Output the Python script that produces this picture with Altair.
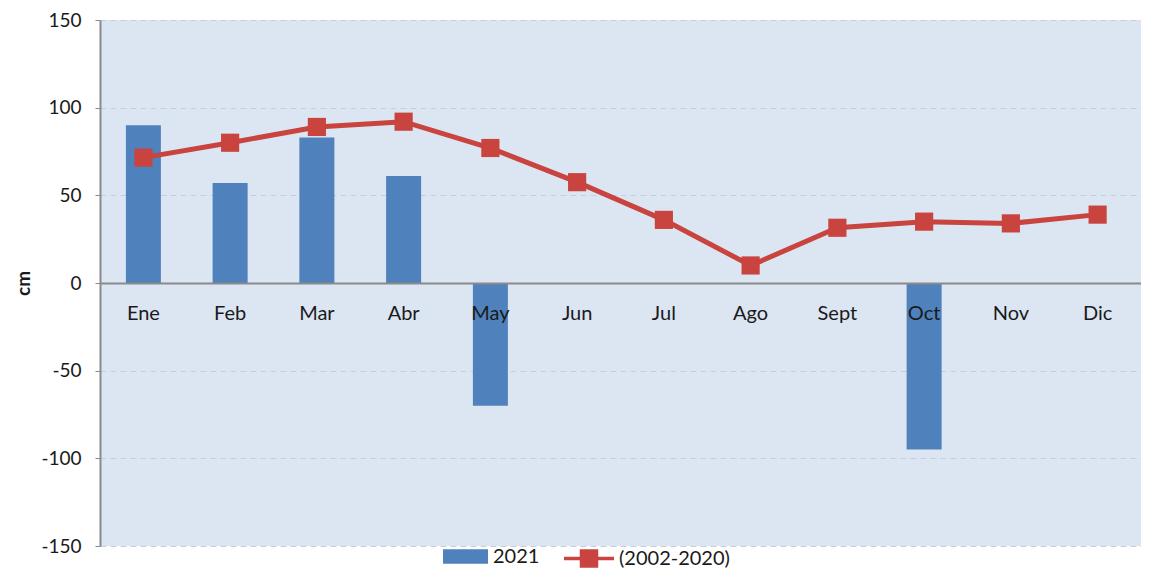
import altair as alt
import pandas as pd

months = ["Ene", "Feb", "Mar", "Abr", "May", "Jun", "Jul", "Ago", "Sept", "Oct", "Nov", "Dic"]
v2021 = [90, 57, 83, 61, -70, None, None, None, None, -95, None, None]
v_avg = [71.5, 80, 89, 92, 77, 57.5, 36, 10, 31.5, 35, 34, 39]

df = pd.DataFrame({
    "mes": months,
    "v2021": v2021,
    "avg": v_avg,
    "s1": "2021",
    "s2": "(2002-2020)",
})

FONT = "Lato"
BLUE = "#4f81bd"
RED = "#c9433f"
TXT = "#1a1a1a"
H = 526
W = 1041
FS = 20
PLOT_TOP = 12

x = alt.X(
    "mes:N", sort=months,
    scale=alt.Scale(paddingInner=0, paddingOuter=0),
    axis=alt.Axis(title=None, orient="bottom", offset=-H / 2, labelAngle=0,
                  domainColor="#8a8a8a", domainWidth=2, ticks=False,
                  labelPadding=20, labelFontSize=FS, labelColor=TXT,
                  labelFont=FONT, zindex=1, grid=False),
)
yscale = alt.Scale(domain=[-150, 150], nice=False)
yaxis = alt.Axis(title="cm", values=[-150, -100, -50, 0, 50, 100, 150],
                 labelExpr="'' + datum.value",
                 grid=True, gridDash=[6, 4], gridColor="#c6ceda", gridWidth=1,
                 domainColor="#8a8a8a", domainWidth=2, tickColor="#8a8a8a",
                 tickSize=5, labelPadding=14, labelFontSize=19, labelFont=FONT,
                 labelColor=TXT, titleFont=FONT, titleFontSize=19,
                 titleFontWeight="bold", titleColor=TXT, titlePadding=7)

bars = alt.Chart(df).mark_bar(size=35).encode(
    x=x,
    y=alt.Y("v2021:Q", scale=yscale, axis=yaxis),
    color=alt.Color("s1:N", scale=alt.Scale(domain=["2021"], range=[BLUE]),
                    legend=alt.Legend(title=None, orient="none", padding=0,
                                      legendX=343, legendY=H - 12,
                                      symbolType="M-1,-0.32L1,-0.32L1,0.32L-1,0.32Z",
                                      symbolSize=2025, symbolStrokeWidth=0,
                                      symbolOpacity=1, labelOffset=5,
                                      labelFontSize=FS, labelFont=FONT,
                                      labelColor=TXT)),
)

line = alt.Chart(df).mark_line(strokeWidth=5).encode(
    x=x,
    y=alt.Y("avg:Q", scale=yscale, axis=yaxis),
    stroke=alt.Stroke("s2:N", scale=alt.Scale(domain=["(2002-2020)"], range=[RED]),
                      legend=alt.Legend(title=None, orient="none", padding=0,
                                        legendX=462, legendY=H - 14.5,
                                        symbolType="M-1,0L1,0M-0.3,-0.3L0.3,-0.3L0.3,0.3L-0.3,0.3Z",
                                        symbolSize=2500, symbolStrokeWidth=3.5,
                                        symbolFillColor=RED, symbolOpacity=1,
                                        labelOffset=3,
                                        labelFontSize=FS, labelFont=FONT,
                                        labelColor=TXT)),
)

pts = alt.Chart(df).mark_square(size=330, color=RED, opacity=1).encode(
    x=x,
    y=alt.Y("avg:Q", scale=yscale, axis=yaxis),
)

chart = alt.layer(bars, line, pts).resolve_legend(
    color="independent", stroke="independent"
).properties(
    width=W, height=H,
    autosize=alt.AutoSizeParams(type="none"),
    padding={"left": 92, "right": 0, "top": PLOT_TOP, "bottom": 560 - H - PLOT_TOP},
).configure_view(fill="#dce6f2", stroke=None)

chart.save("out.html", embed_options={"renderer": "svg", "actions": False})
